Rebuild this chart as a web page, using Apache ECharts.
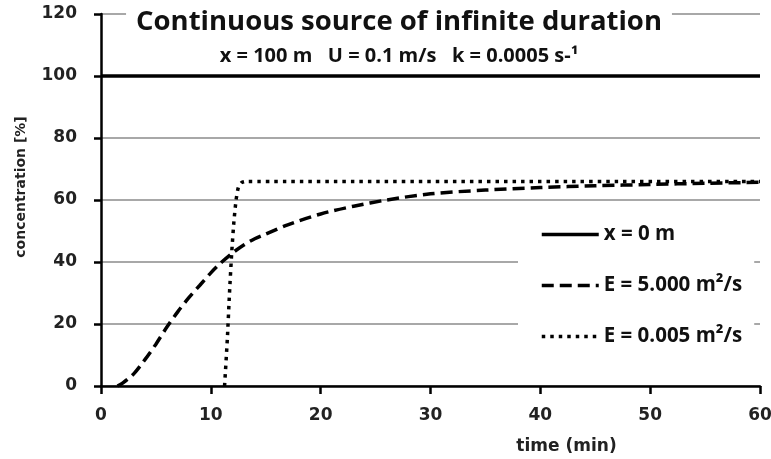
<!DOCTYPE html>
<html>
<head>
<meta charset="utf-8">
<script src="https://cdn.jsdelivr.net/npm/echarts@6/dist/echarts.min.js"></script>
<style>
html,body{margin:0;padding:0;background:#fff;}
#chart{width:771px;height:459px;}
</style>
</head>
<body>
<div id="chart"></div>
<script>
// ---- data ----
const titleText = 'Continuous source of infinite duration';
const subtitleText = 'x = 100 m   U = 0.1 m/s   k = 0.0005 s-\u00B9';
const xName = 'time (min)';
const yName = 'concentration [%]';
const seriesNames = ['x = 0 m', 'E = 5.000 m\u00B2/s', 'E = 0.005 m\u00B2/s'];

// x = 0 m (source concentration)
const srcTime = [0, 60];
const srcConc = [100, 100];

// E = 5.000 m2/s
const e5Time = [1.5, 2, 3, 4, 5, 6, 7, 8, 9, 10, 11, 12, 13, 14, 15, 17, 20, 23, 26, 30, 35, 40, 45, 50, 55, 60];
const e5Conc = [0, 1, 4, 8.5, 13.5, 19, 24, 28.5, 32.5, 36.5, 40, 43, 45.5, 47.5, 49, 52, 55.5, 58, 60, 62, 63.2, 64, 64.6, 65, 65.4, 65.7];

// E = 0.005 m2/s
const e0Time = [11.25, 11.5, 11.7, 11.9, 12.1, 12.3, 12.5, 12.8, 13.2, 60];
const e0Conc = [0, 15, 30, 43, 53, 60, 64, 65.6, 66, 66];

const xTicks = {min: 0, max: 60, interval: 10};
const yTicks = {min: 0, max: 120, interval: 20};

function pairs(xs, ys) { return xs.map((x, i) => [x, ys[i]]); }

const chart = echarts.init(document.getElementById('chart'), null, {renderer: 'canvas'});
const tickFont = 'DejaVu Sans';
const textFont = 'Open Sans';

chart.setOption({
  animation: false,
  backgroundColor: '#ffffff',
  grid: {left: 101, right: 11, top: 14, bottom: 73, containLabel: false, outerBoundsMode: 'none'},
  title: {
    text: titleText,
    subtext: subtitleText,
    left: 389,
    top: 0,
    textAlign: 'center',
    backgroundColor: '#ffffff',
    padding: [4, 10, 3, 10],
    itemGap: 5,
    textStyle: {fontFamily: textFont, fontWeight: 'bold', fontSize: 27.5, lineHeight: 36, color: '#111'},
    subtextStyle: {fontFamily: textFont, fontWeight: 'bold', fontSize: 20, lineHeight: 23, color: '#111'},
    z: 10
  },
  legend: {
    orient: 'vertical',
    left: 518,
    top: 212,
    padding: [12, 12, 25, 22],
    backgroundColor: '#ffffff',
    itemWidth: 57,
    itemHeight: 16,
    itemGap: 30,
    data: seriesNames,
    itemStyle: {opacity: 0},
    lineStyle: {width: 3.5},
    textStyle: {fontFamily: textFont, fontWeight: 'bold', fontSize: 20.5, color: '#111'},
    z: 10
  },
  xAxis: {
    type: 'value',
    min: xTicks.min, max: xTicks.max, interval: xTicks.interval,
    name: xName,
    nameLocation: 'middle',
    nameGap: 52,
    nameTextStyle: {fontFamily: tickFont, fontWeight: 'bold', fontSize: 17, color: '#222', padding: [0, 0, 0, 272]},
    axisLine: {show: true, onZero: false, lineStyle: {color: '#000', width: 2.5}},
    axisTick: {show: true, inside: false, length: 8, lineStyle: {color: '#000', width: 2.5}},
    axisLabel: {fontFamily: tickFont, fontWeight: 'bold', fontSize: 17, color: '#222', margin: 21},
    splitLine: {show: false}
  },
  yAxis: {
    type: 'value',
    min: yTicks.min, max: yTicks.max, interval: yTicks.interval,
    name: yName,
    nameLocation: 'middle',
    nameGap: 73,
    nameTextStyle: {fontFamily: tickFont, fontWeight: 'bold', fontSize: 14, color: '#222', padding: [0, 0, 0, 26]},
    axisLine: {show: true, onZero: false, lineStyle: {color: '#000', width: 2.5}},
    axisTick: {show: true, inside: false, length: 7, lineStyle: {color: '#000', width: 2.5}},
    axisLabel: {fontFamily: tickFont, fontWeight: 'bold', fontSize: 17, color: '#222', margin: 24},
    splitLine: {show: true, lineStyle: {color: '#a8a8a8', width: 2}}
  },
  series: [
    {
      name: seriesNames[0], type: 'line', data: pairs(srcTime, srcConc),
      symbol: 'none', itemStyle: {color: '#000'}, lineStyle: {color: '#000', width: 3.5, type: 'solid'}, z: 3
    },
    {
      name: seriesNames[1], type: 'line', data: pairs(e5Time, e5Conc), smooth: 0.3,
      symbol: 'none', itemStyle: {color: '#000'}, lineStyle: {color: '#000', width: 3.5, type: [12, 6]}, z: 3
    },
    {
      name: seriesNames[2], type: 'line', data: pairs(e0Time, e0Conc), smooth: 0.2,
      symbol: 'none', itemStyle: {color: '#000'}, lineStyle: {color: '#000', width: 3.5, type: [3.5, 5]}, z: 3
    }
  ]
});
</script>
</body>
</html>
